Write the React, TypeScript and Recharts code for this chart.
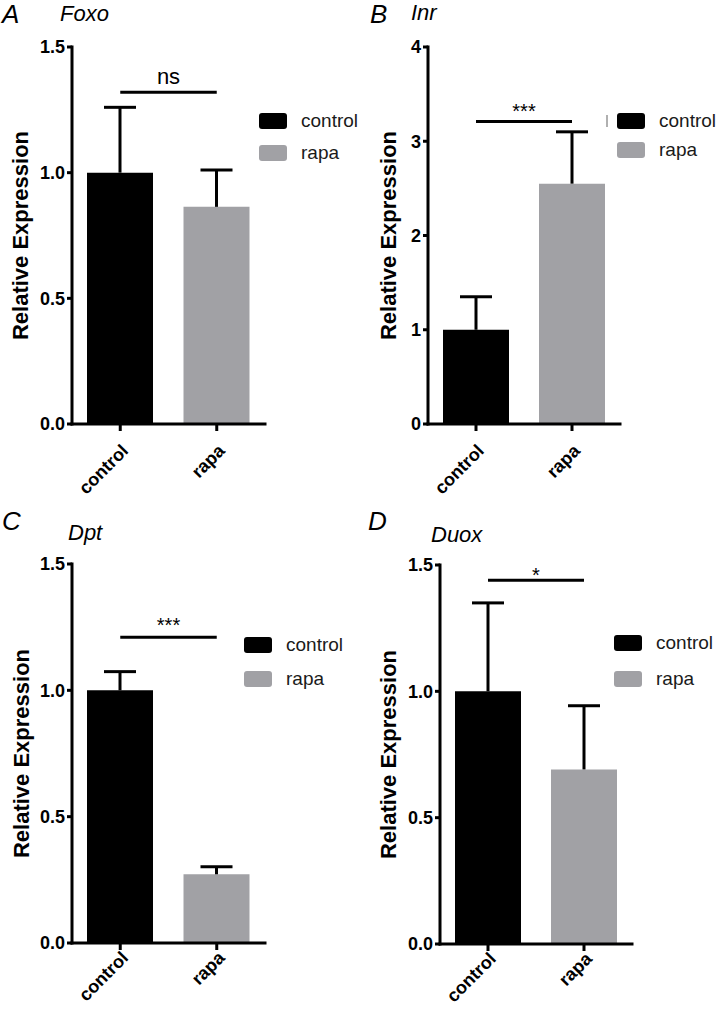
import React from 'react';
import { BarChart, Bar, Cell, XAxis, YAxis, ReferenceLine, Legend } from 'recharts';

const FONT = '"Liberation Sans", Arial, Helvetica, sans-serif';
const COLORS = ['#000000', '#a1a1a5'];

// data
const groups = ['control', 'rapa'];

const foxoMean = [1.0, 0.864];
const foxoErr = [0.26, 0.147];
const foxoTicks = [0, 0.5, 1.0, 1.5];

const inrMean = [1.0, 2.55];
const inrErr = [0.35, 0.55];
const inrTicks = [0, 1, 2, 3, 4];

const dptMean = [1.0, 0.272];
const dptErr = [0.074, 0.03];
const dptTicks = [0, 0.5, 1.0, 1.5];

const duoxMean = [1.0, 0.691];
const duoxErr = [0.35, 0.252];
const duoxTicks = [0, 0.5, 1.0, 1.5];

const sigLevels = [1.32, 3.21, 1.21, 1.44];
const sigLabels = ['ns', '***', '***', '*'];

const panels = [
  {
    letter: 'A', gene: 'Foxo', mean: foxoMean, err: foxoErr, ticks: foxoTicks, digits: 1,
    left: 0, top: 0, h: 500, axisX: 72, axisEnd: 265, plotTop: 47, plotBottom: 424,
    labelX: 20, sigOffset: 8, sigSize: 22, tickDy: 10,
    legX: 259, legY: 111, legGap: 11.5, stray: false,
    letterPos: [2, 23], genePos: [60, 22],
  },
  {
    letter: 'B', gene: 'Inr', mean: inrMean, err: inrErr, ticks: inrTicks, digits: 0,
    left: 358, top: 0, h: 500, axisX: 70, axisEnd: 262, plotTop: 47, plotBottom: 424,
    labelX: 30, sigOffset: 3, sigSize: 20, tickDy: 10,
    legX: 259, legY: 110.5, legGap: 9, stray: true,
    letterPos: [12, 23], genePos: [53, 21],
  },
  {
    letter: 'C', gene: 'Dpt', mean: dptMean, err: dptErr, ticks: dptTicks, digits: 1,
    left: 0, top: 500, h: 510, axisX: 72, axisEnd: 265, plotTop: 64, plotBottom: 443,
    labelX: 21, sigOffset: 5, sigSize: 20, tickDy: -2,
    legX: 244, legY: 134.5, legGap: 14, stray: false,
    letterPos: [2, 30], genePos: [68, 41],
  },
  {
    letter: 'D', gene: 'Duox', mean: duoxMean, err: duoxErr, ticks: duoxTicks, digits: 1,
    left: 358, top: 500, h: 510, axisX: 82, axisEnd: 274, plotTop: 65, plotBottom: 444,
    labelX: 30, sigOffset: -2, sigSize: 20, tickDy: -2,
    legX: 256, legY: 133, legGap: 15.5, stray: false,
    letterPos: [10, 30], genePos: [73, 43],
  },
];

const W = 358;

function Whisker(props: any) {
  const { x, y, width, height } = props;
  if (x == null || y == null) return null;
  const cx = x + width / 2;
  return (
    <g>
      <line x1={cx} x2={cx} y1={y + height} y2={y} stroke="#000" strokeWidth={3} />
      <line x1={cx - 16} x2={cx + 16} y1={y} y2={y} stroke="#000" strokeWidth={3} />
    </g>
  );
}

function XTick(props: any) {
  const { x, y, payload, shift } = props;
  return (
    <g transform={`translate(${x},${y + shift}) rotate(-45)`}>
      <text x={0} y={0} dy="0.71em" textAnchor="end" fontSize={18} fontWeight="bold" fill="#000">
        {payload.value}
      </text>
    </g>
  );
}

function LegendBox({ gap, stray }: { gap: number; stray: boolean }) {
  return (
    <div style={{ fontFamily: FONT, fontSize: 19, color: '#1a1a1a' }}>
      {groups.map((g, i) => (
        <div
          key={g}
          style={{ display: 'flex', alignItems: 'center', height: 20, marginBottom: i === 0 ? gap : 0, position: 'relative' }}
        >
          {stray && i === 0 && (
            <span style={{ position: 'absolute', left: -11, top: 4, width: 1.5, height: 12, background: '#b0b0b0' }} />
          )}
          <span style={{ display: 'inline-block', width: 28, height: 16, background: COLORS[i], borderRadius: 3, marginRight: 14 }} />
          <span>{g}</span>
        </div>
      ))}
    </div>
  );
}

function Panel({ p, idx }: { p: (typeof panels)[number]; idx: number }) {
  const data = groups.map((g, i) => ({ name: g, mean: p.mean[i], err: p.err[i] }));
  const yMax = p.ticks[p.ticks.length - 1];
  const cy = (p.plotTop + p.plotBottom) / 2;
  const sig = sigLevels[idx];

  const yLabel = () => (
    <text
      x={p.labelX}
      y={cy}
      transform={`rotate(-90, ${p.labelX}, ${cy})`}
      textAnchor="middle"
      dominantBaseline="central"
      fontSize={22}
      fontWeight="bold"
      fill="#000"
    >
      Relative Expression
    </text>
  );

  return (
    <div style={{ position: 'absolute', left: p.left, top: p.top, width: W, height: p.h }}>
      <div
        style={{ position: 'absolute', left: p.letterPos[0], top: p.letterPos[1] - 22, fontSize: 26, lineHeight: 1, fontStyle: 'italic' }}
      >
        {p.letter}
      </div>
      <div
        style={{ position: 'absolute', left: p.genePos[0], top: p.genePos[1] - 18.6, fontSize: 22, lineHeight: 1, fontStyle: 'italic' }}
      >
        {p.gene}
      </div>
      <BarChart
        width={W}
        height={p.h}
        data={data}
        margin={{ top: p.plotTop, left: p.axisX - 60, right: W - p.axisEnd, bottom: p.h - p.plotBottom - 50 }}
      >
        <XAxis
          dataKey="name"
          height={50}
          interval={0}
          tickSize={7}
          axisLine={{ stroke: '#000', strokeWidth: 3, strokeLinecap: 'square' }}
          tickLine={{ stroke: '#000', strokeWidth: 3 }}
          tick={<XTick shift={p.tickDy} />}
        />
        <YAxis
          width={60}
          domain={[0, yMax]}
          ticks={p.ticks}
          interval={0}
          tickSize={5}
          tickFormatter={(v: number) => v.toFixed(p.digits)}
          axisLine={{ stroke: '#000', strokeWidth: 3, strokeLinecap: 'square' }}
          tickLine={{ stroke: '#000', strokeWidth: 3 }}
          tick={{ fontSize: 18, fontWeight: 'bold', fill: '#000' }}
          label={yLabel}
        />
        <Legend
          layout="vertical"
          align="center"
          verticalAlign="middle"
          wrapperStyle={{ left: p.legX, top: p.legY, width: 110, height: 'auto' }}
          content={() => <LegendBox gap={p.legGap} stray={p.stray} />}
        />
        <Bar dataKey="mean" stackId="s" barSize={66} isAnimationActive={false}>
          {data.map((d, i) => (
            <Cell key={d.name} fill={COLORS[i]} />
          ))}
        </Bar>
        <Bar dataKey="err" stackId="s" barSize={66} fill="none" shape={<Whisker />} isAnimationActive={false} />
        <ReferenceLine
          segment={[{ x: groups[0], y: sig }, { x: groups[1], y: sig }]}
          stroke="#000"
          strokeWidth={3}
          label={{ value: sigLabels[idx], position: 'top', offset: p.sigOffset, fontSize: p.sigSize, fill: '#000' }}
        />
      </BarChart>
    </div>
  );
}

export default function App() {
  return (
    <div
      style={{ position: 'absolute', left: 0, top: 0, width: 716, height: 1010, background: '#fff', fontFamily: FONT, color: '#000' }}
    >
      {panels.map((p, i) => (
        <Panel key={p.letter} p={p} idx={i} />
      ))}
    </div>
  );
}
